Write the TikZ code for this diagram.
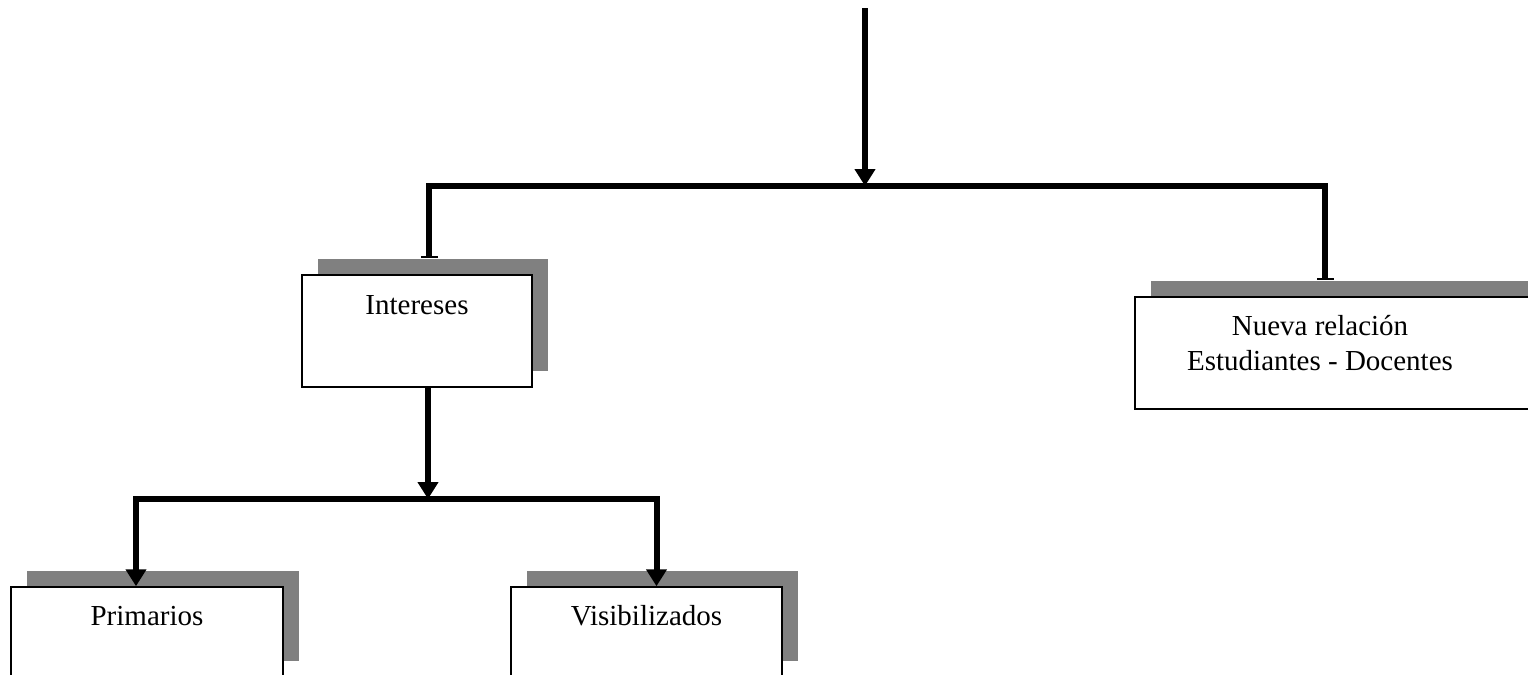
\documentclass[tikz,border=0pt]{standalone}
\usepackage{fontspec}
\setmainfont{Liberation Serif}
\usetikzlibrary{arrows.meta, shadows}

\tikzset{
  caja/.style={draw, line width=0.75pt, fill=white, inner sep=0pt,
    drop shadow={shadow xshift=8pt, shadow yshift=8pt, fill=black!50, opacity=1}},
  conector/.style={line width=3pt},
  flecha/.style={conector, -{Triangle[width=10pt,length=8.5pt]}},
  tope/.style={conector, {Bar[width=8.5pt,line width=1pt]}-{Bar[width=8.5pt,line width=1pt]}}
}

\begin{document}
\begin{tikzpicture}[x=0.5pt, y=-0.5pt, font=\fontsize{14.5}{17.5}\selectfont]
\useasboundingbox (0,0) rectangle (1528,675);
\node[caja, minimum width=115pt, text height=19.5pt, text depth=36.5pt] (int) at (417,331) {Intereses};
\node[caja, minimum width=205pt, minimum height=56pt] (rel) at (1340,353) {};
\node[anchor=base, inner sep=0pt, align=center] (reltxt) at (1320,370) {Nueva relación\\Estudiantes - Docentes};
\node[caja, minimum width=136pt, text height=19pt, text depth=26pt] (prim) at (147,632) {Primarios};
\node[caja, minimum width=135.5pt, text height=19pt, text depth=26pt] (visi) at (646.5,632) {Visibilizados};
\coordinate (origen) at (865,8);
\coordinate (cruce1) at (865,186);
\coordinate (cruce2) at (428,499);
\draw[flecha] (origen) -- (cruce1);
\draw[tope] ([xshift=6pt,yshift=8pt]int.north) |- (cruce1) -| ([xshift=-7.5pt,yshift=8pt]rel.north);
\draw[flecha] ([xshift=5.5pt]int.south) -- (cruce2);
\draw[flecha] (cruce2) -| ([xshift=-5.5pt]prim.north);
\draw[flecha] (cruce2) -| ([xshift=5pt]visi.north);
\end{tikzpicture}
\end{document}
